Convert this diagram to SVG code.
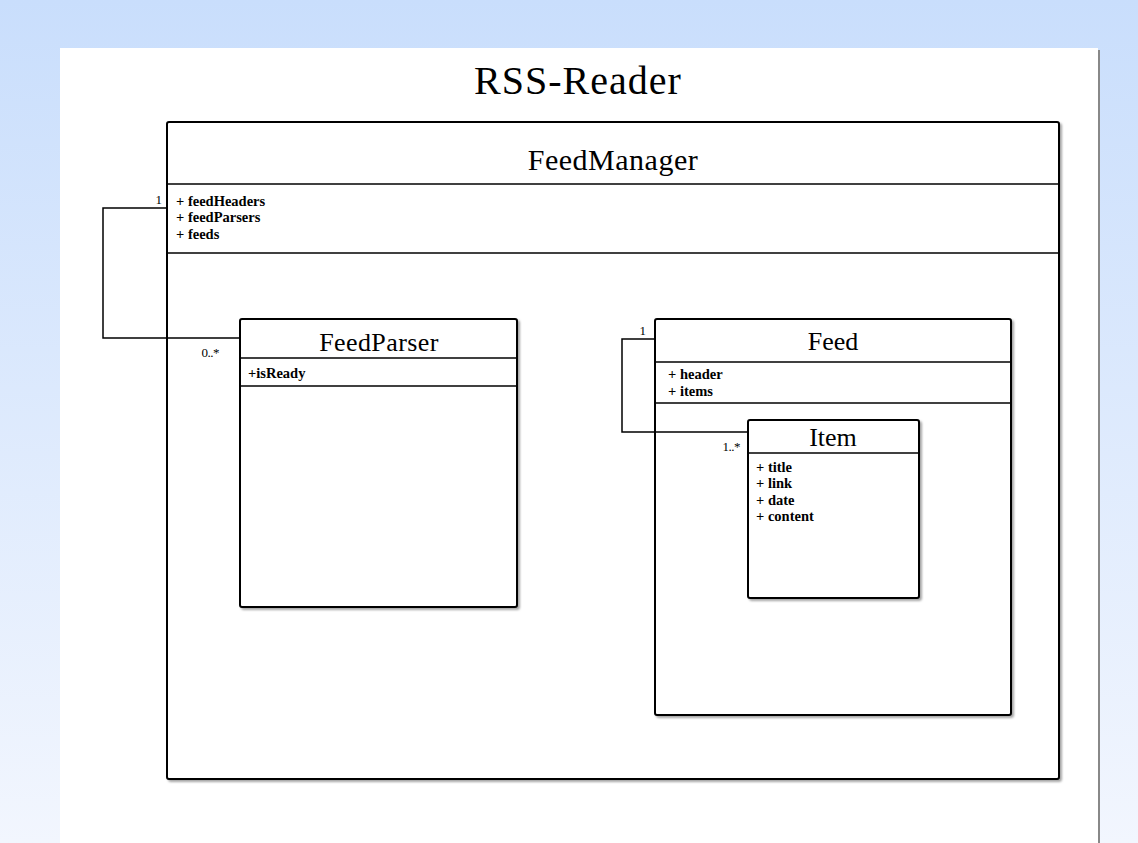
<svg xmlns="http://www.w3.org/2000/svg" width="1138" height="843" viewBox="0 0 1138 843">
<defs>
<linearGradient id="bg" x1="0" y1="0" x2="0" y2="1">
<stop offset="0" stop-color="#c9defc"/>
<stop offset="1" stop-color="#f2f6fe"/>
</linearGradient>
<filter id="sh" x="-5%" y="-5%" width="110%" height="110%">
<feDropShadow dx="2" dy="2" stdDeviation="1.2" flood-color="#000" flood-opacity="0.35"/>
</filter>
</defs>
<style>
.box{fill:#fff;stroke:#000;stroke-width:2;filter:url(#sh)}
.div{stroke:#000;stroke-width:1.5}
.name{font-family:"Liberation Serif",serif;text-anchor:middle;fill:#000}
.attr{font-family:"Liberation Serif",serif;font-size:14.5px;font-weight:bold;fill:#000}
.mult{font-family:"Liberation Serif",serif;font-size:13px;fill:#000}
.conn{fill:none;stroke:#000;stroke-width:1.5}
</style>
<rect x="0" y="0" width="1138" height="843" fill="url(#bg)"/>
<rect x="60" y="48" width="1038" height="795" fill="#fff"/>
<line x1="1099" y1="50" x2="1099" y2="843" stroke="#888" stroke-width="2"/>
<text x="578" y="94" class="name" font-size="40" letter-spacing="1">RSS-Reader</text>

<g id="FeedManager">
<rect class="box" x="167" y="122" width="892" height="657" rx="2"/>
<line class="div" x1="167" y1="184" x2="1059" y2="184"/>
<line class="div" x1="167" y1="253" x2="1059" y2="253"/>
<text x="613" y="170" class="name" font-size="30" letter-spacing="0.5">FeedManager</text>
<text x="176" y="206" class="attr">+ feedHeaders</text>
<text x="176" y="222" class="attr">+ feedParsers</text>
<text x="176" y="239" class="attr">+ feeds</text>
</g>

<g id="FeedParser">
<rect class="box" x="240" y="319" width="277" height="288" rx="2"/>
<line class="div" x1="240" y1="358" x2="517" y2="358"/>
<line class="div" x1="240" y1="386" x2="517" y2="386"/>
<text x="379" y="351" class="name" font-size="26" letter-spacing="0.4">FeedParser</text>
<text x="248" y="378" class="attr">+isReady</text>
</g>

<g id="Feed">
<rect class="box" x="655" y="319" width="356" height="396" rx="2"/>
<line class="div" x1="655" y1="362" x2="1011" y2="362"/>
<line class="div" x1="655" y1="403" x2="1011" y2="403"/>
<text x="833" y="350" class="name" font-size="26">Feed</text>
<text x="668" y="379" class="attr">+ header</text>
<text x="668" y="396" class="attr">+ items</text>
</g>

<g id="Item">
<rect class="box" x="748" y="420" width="171" height="178" rx="2"/>
<line class="div" x1="748" y1="453" x2="919" y2="453"/>
<text x="833" y="446" class="name" font-size="26">Item</text>
<text x="756" y="472" class="attr">+ title</text>
<text x="756" y="488" class="attr">+ link</text>
<text x="756" y="505" class="attr">+ date</text>
<text x="756" y="521" class="attr">+ content</text>
</g>

<g id="connectors">
<polyline class="conn" points="167,208 103,208 103,338 240,338"/>
<text x="162" y="204" class="mult" text-anchor="end">1</text>
<text x="219" y="357" class="mult" text-anchor="end" letter-spacing="-0.5">0..*</text>
<polyline class="conn" points="655,339 622,339 622,432 748,432"/>
<text x="646" y="335" class="mult" text-anchor="end">1</text>
<text x="740" y="451" class="mult" text-anchor="end" letter-spacing="-0.5">1..*</text>
</g>
</svg>
